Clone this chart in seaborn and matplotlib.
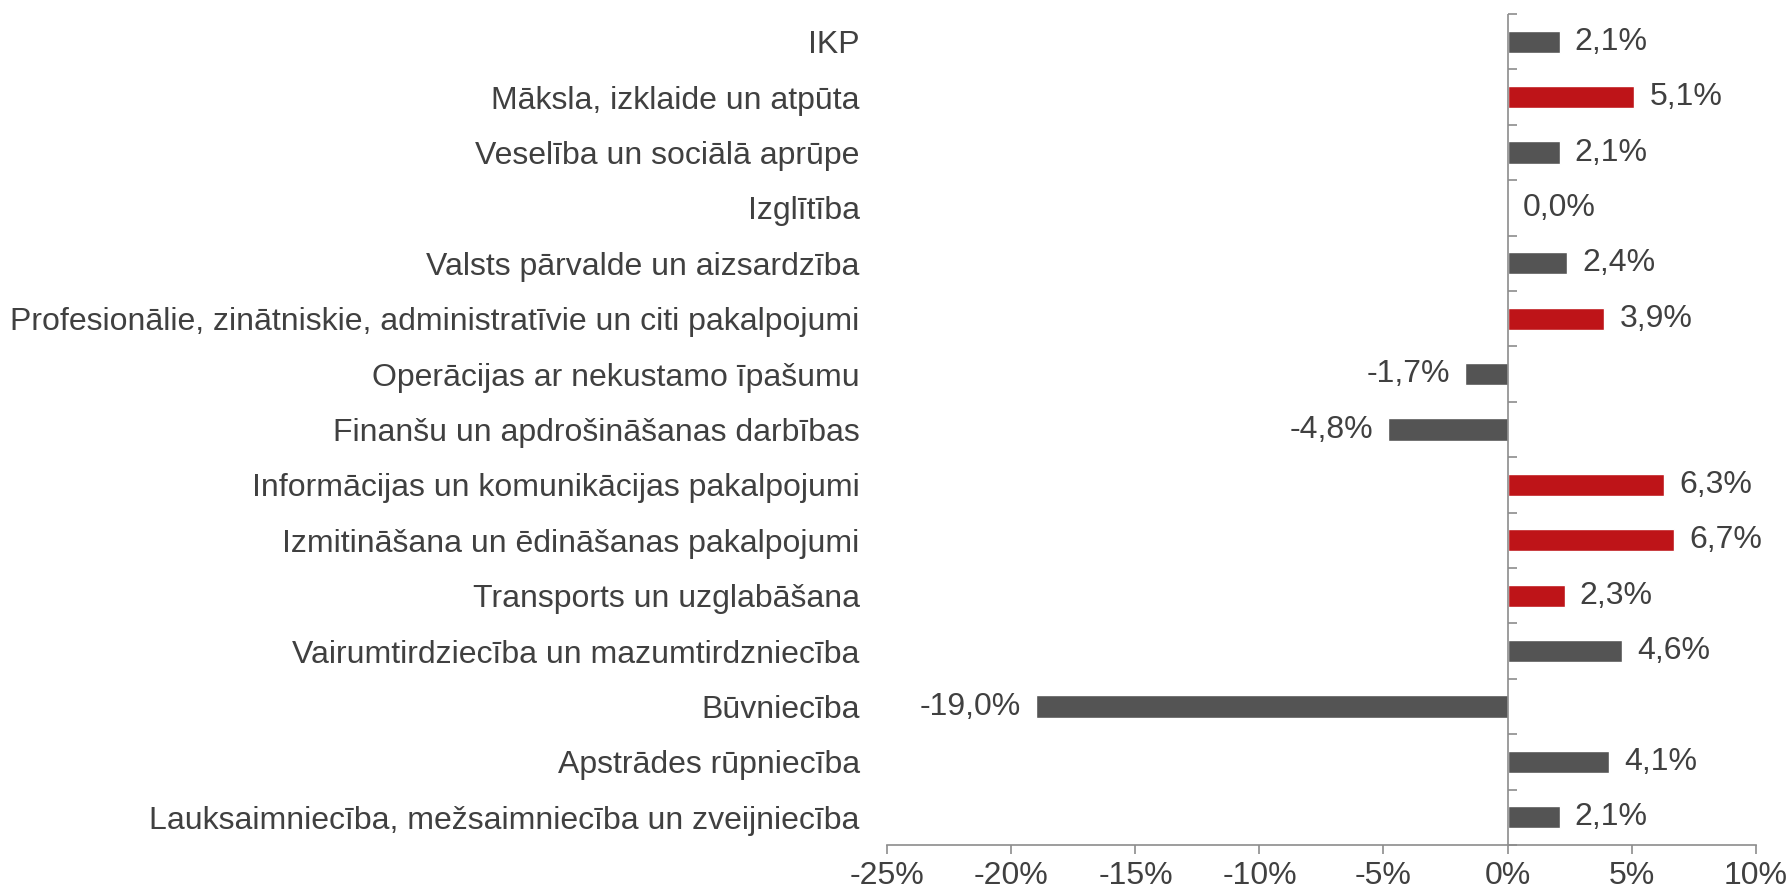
import matplotlib
matplotlib.use("Agg")
import matplotlib.pyplot as plt
import seaborn as sns
import pandas as pd

categories = [
    "IKP",
    "Māksla, izklaide un atpūta",
    "Veselība un sociālā aprūpe",
    "Izglītība",
    "Valsts pārvalde un aizsardzība",
    "Profesionālie, zinātniskie, administratīvie un citi pakalpojumi",
    "Operācijas ar nekustamo īpašumu",
    "Finanšu un apdrošināšanas darbības",
    "Informācijas un komunikācijas pakalpojumi",
    "Izmitināšana un ēdināšanas pakalpojumi",
    "Transports un uzglabāšana",
    "Vairumtirdziecība un mazumtirdzniecība",
    "Būvniecība",
    "Apstrādes rūpniecība",
    "Lauksaimniecība, mežsaimniecība un zveijniecība",
]
values = [2.1, 5.1, 2.1, 0.0, 2.4, 3.9, -1.7, -4.8, 6.3, 6.7, 2.3, 4.6, -19.0, 4.1, 2.1]
highlight = [False, True, False, False, False, True, False, False, True, True, True, False, False, False, False]
xticks = [-25, -20, -15, -10, -5, 0, 5, 10]

GRAY = "#545454"
RED = "#BE1418"
TEXT = "#404040"
AXIS = "#8C8C8C"

sns.set_theme(style="white")
plt.rcParams["font.family"] = ["Liberation Sans", "DejaVu Sans"]

df = pd.DataFrame({"cat": categories, "val": values,
                   "grp": ["r" if h else "g" for h in highlight]})

fig = plt.figure(figsize=(17.91, 8.94), dpi=100)
ax = fig.add_axes([0.4955, 0.0548, 0.4847, 0.9295])

sns.barplot(data=df, x="val", y="cat", hue="grp", palette={"g": GRAY, "r": RED},
            order=categories, orient="h", width=0.4, dodge=False, legend=False,
            ax=ax, saturation=1)

ax.set_xlim(-25, 10)
ax.set_ylim(len(categories) - 0.5, -0.5)
ax.set_xlabel("")
ax.set_ylabel("")

fs = 23
ax.set_xticks(xticks)
ax.set_xticklabels([f"{t}%" for t in xticks], fontsize=fs, color=TEXT)
ax.tick_params(axis="x", length=6.5, width=1.2, color=AXIS, pad=5, direction="out", bottom=True)
ax.tick_params(axis="y", length=0, pad=20, labelsize=fs, labelcolor=TEXT, left=False)

for s in ["top", "right", "left"]:
    ax.spines[s].set_visible(False)
ax.spines["bottom"].set_color(AXIS)
ax.spines["bottom"].set_linewidth(1.2)

# vertical axis line at zero with ticks between categories
ax.axvline(0, color=AXIS, linewidth=1.2, zorder=3)
loc0 = (0 - (-25)) / (10 - (-25))
sec = ax.secondary_yaxis(loc0)
sec.set_yticks([i - 0.5 for i in range(len(categories) + 1)])
sec.set_yticklabels([])
sec.tick_params(axis="y", length=6.5, width=1.2, color=AXIS, direction="out")
for s in ["top", "right", "bottom", "left"]:
    sec.spines[s].set_visible(False)

for i, v in enumerate(values):
    lab = f"{v:.1f}%".replace(".", ",")
    if v >= 0:
        ax.annotate(lab, (v, i), xytext=(11, 0), textcoords="offset points",
                    ha="left", va="center", fontsize=fs, color=TEXT)
    else:
        ax.annotate(lab, (v, i), xytext=(-11, 0), textcoords="offset points",
                    ha="right", va="center", fontsize=fs, color=TEXT)

fig.savefig("out.png", dpi=100)
